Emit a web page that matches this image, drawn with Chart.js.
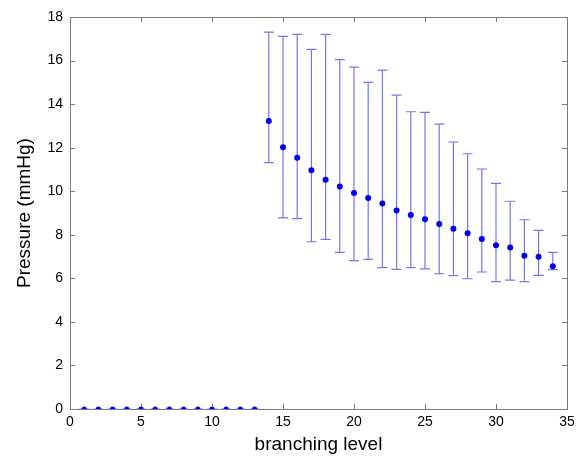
<!DOCTYPE html>
<html>
<head>
<meta charset="utf-8">
<style>
  html, body { margin: 0; padding: 0; background: #fff; }
  #wrap { width: 585px; height: 458px; }
</style>
<script src="https://cdn.jsdelivr.net/npm/chart.js@4.4.1/dist/chart.umd.min.js"></script>
</head>
<body>
<div id="wrap"><canvas id="chart" width="585" height="458"></canvas></div>
<script>
// Branching level along the vessel tree
const levels = [1, 2, 3, 4, 5, 6, 7, 8, 9, 10, 11, 12, 13, 14, 15, 16, 17,
                18, 19, 20, 21, 22, 23, 24, 25, 26, 27, 28, 29, 30, 31, 32, 33, 34];
// Mean pressure (mmHg) per level
const meanPressure = [0, 0, 0, 0, 0, 0, 0, 0, 0, 0, 0, 0, 0,
                      13.22, 12.02, 11.54, 10.96, 10.53, 10.22, 9.92, 9.69, 9.44, 9.12,
                      8.91, 8.71, 8.49, 8.28, 8.07, 7.81, 7.52, 7.42, 7.04, 6.99, 6.55];
// Upper end of the spread (mmHg)
const upperPressure = [0, 0, 0, 0, 0, 0, 0, 0, 0, 0, 0, 0, 0,
                       17.31, 17.11, 17.20, 16.51, 17.20, 16.04, 15.70, 15.00, 15.56, 14.41,
                       13.65, 13.62, 13.08, 12.26, 11.72, 11.02, 10.36, 9.54, 8.69, 8.20, 7.19];
// Lower end of the spread (mmHg)
const lowerPressure = [0, 0, 0, 0, 0, 0, 0, 0, 0, 0, 0, 0, 0,
                       11.31, 8.78, 8.74, 7.68, 7.79, 7.19, 6.81, 6.87, 6.49, 6.41,
                       6.49, 6.43, 6.21, 6.12, 5.98, 6.29, 5.85, 5.92, 5.85, 6.14, 6.40];
// Axis ticks
const xTickValues = [0, 5, 10, 15, 20, 25, 30, 35];
const yTickValues = [0, 2, 4, 6, 8, 10, 12, 14, 16, 18];

const FONT = '"Liberation Sans", Arial, Helvetica, sans-serif';

// Boxed frame with inward tick marks on all four sides (drawn under the data)
const boxFrame = {
  id: 'boxFrame',
  beforeDatasetsDraw(chart) {
    const { ctx, chartArea: a, scales: { x, y } } = chart;
    const len = 5;
    ctx.save();
    ctx.strokeStyle = '#7a7a7a';
    ctx.lineWidth = 1;
    ctx.beginPath();
    xTickValues.forEach(v => {
      const px = Math.round(x.getPixelForValue(v)) + 0.5;
      ctx.moveTo(px, a.bottom); ctx.lineTo(px, a.bottom - len);
      ctx.moveTo(px, a.top); ctx.lineTo(px, a.top + len);
    });
    yTickValues.forEach(v => {
      const py = Math.round(y.getPixelForValue(v)) + 0.5;
      ctx.moveTo(a.left, py); ctx.lineTo(a.left + len, py);
      ctx.moveTo(a.right, py); ctx.lineTo(a.right - len, py);
    });
    ctx.stroke();
    ctx.strokeRect(Math.round(a.left) + 0.5, Math.round(a.top) + 0.5,
                   Math.round(a.right - a.left), Math.round(a.bottom - a.top));
    ctx.restore();
  }
};

// Vertical error bars with caps, drawn under the markers
const errorBars = {
  id: 'errorBars',
  beforeDatasetsDraw(chart) {
    const { ctx, scales: { x, y } } = chart;
    ctx.save();
    ctx.strokeStyle = '#7676f2';
    ctx.lineWidth = 1.2;
    const cap = 5;
    levels.forEach((lvl, i) => {
      const px = x.getPixelForValue(lvl);
      const top = y.getPixelForValue(upperPressure[i]);
      const bot = y.getPixelForValue(lowerPressure[i]);
      ctx.beginPath();
      ctx.moveTo(px, top); ctx.lineTo(px, bot);
      ctx.moveTo(px - cap, top); ctx.lineTo(px + cap, top);
      ctx.moveTo(px - cap, bot); ctx.lineTo(px + cap, bot);
      ctx.stroke();
    });
    ctx.restore();
  }
};

new Chart(document.getElementById('chart'), {
  type: 'scatter',
  data: {
    datasets: [{
      data: levels.map((lvl, i) => ({ x: lvl, y: meanPressure[i] })),
      backgroundColor: '#0000ee',
      borderWidth: 0,
      pointRadius: ctx => (meanPressure[ctx.dataIndex] === 0 ? 2.6 : 3),
      pointHoverRadius: 3
    }]
  },
  options: {
    responsive: false,
    devicePixelRatio: 1,
    animation: false,
    layout: { padding: { top: 17, right: 18, left: 0, bottom: 0 } },
    plugins: { legend: { display: false }, tooltip: { enabled: false } },
    scales: {
      x: {
        type: 'linear',
        min: 0, max: 35,
        afterBuildTicks(scale) { scale.ticks = xTickValues.map(v => ({ value: v })); },
        afterFit(scale) { scale.height = 49; },
        grid: { display: false, drawTicks: false },
        border: { display: false },
        ticks: { color: '#000', padding: 5, maxRotation: 0, font: { family: FONT, size: 14 } },
        title: {
          display: true, text: 'branching level', color: '#000',
          font: { family: FONT, size: 19 }, padding: { top: 0, bottom: 2 }
        }
      },
      y: {
        type: 'linear',
        min: 0, max: 18,
        afterBuildTicks(scale) { scale.ticks = yTickValues.map(v => ({ value: v })); },
        afterFit(scale) { scale.width = 70; },
        grid: { display: false, drawTicks: false },
        border: { display: false },
        ticks: { color: '#000', padding: 7, font: { family: FONT, size: 14 } },
        title: {
          display: true, text: 'Pressure (mmHg)', color: '#000',
          font: { family: FONT, size: 19 }, padding: { top: 13, bottom: 0 }
        }
      }
    }
  },
  plugins: [boxFrame, errorBars]
});
</script>
</body>
</html>
